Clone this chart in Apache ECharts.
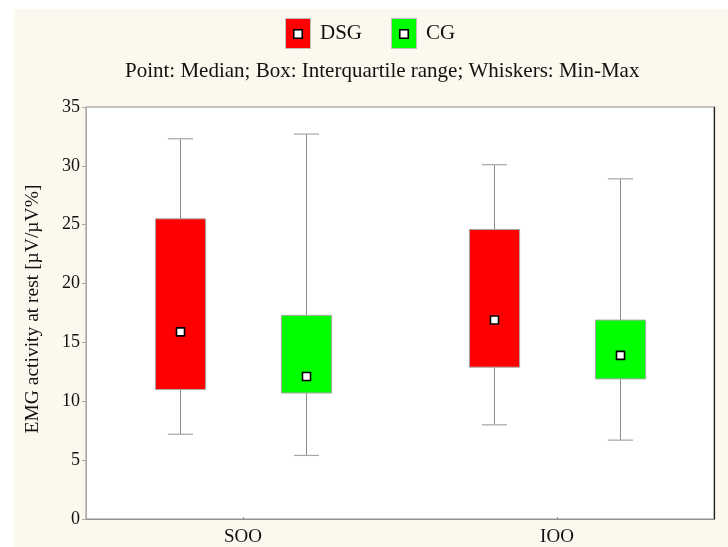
<!DOCTYPE html>
<html>
<head>
<meta charset="utf-8">
<script src="https://cdn.jsdelivr.net/npm/echarts@6/dist/echarts.min.js"></script>
<style>
  html, body { margin: 0; padding: 0; background: #ffffff; }
  #wrap { position: relative; width: 728px; height: 547px; background: #ffffff; }
  #chart { position: absolute; left: 14px; top: 9px; width: 714px; height: 538px; background: #fdf8ee; }
</style>
</head>
<body>
<div id="wrap"><div id="chart"></div></div>
<script>
// Muscle groups on the x axis
const categories = ['SOO', 'IOO'];
const yTicks = [0, 5, 10, 15, 20, 25, 30, 35];

// DSG group: min, lower quartile, median, upper quartile, max
const dsgMin    = [7.2, 8.0];
const dsgQ1     = [11.0, 12.9];
const dsgMedian = [15.9, 16.9];
const dsgQ3     = [25.5, 24.6];
const dsgMax    = [32.3, 30.1];

// CG group: min, lower quartile, median, upper quartile, max
const cgMin    = [5.4, 6.7];
const cgQ1     = [10.7, 11.9];
const cgMedian = [12.1, 13.9];
const cgQ3     = [17.3, 16.9];
const cgMax    = [32.7, 28.9];

const FONT = '"Liberation Serif", "Times New Roman", serif';

function rows(mins, q1s, meds, q3s, maxs) {
  return categories.map((c, i) => [i, mins[i], q1s[i], meds[i], q3s[i], maxs[i]]);
}

// Legend icon: filled swatch with a small median square in the middle
function legendIcon(fill) {
  const svg = '<svg xmlns="http://www.w3.org/2000/svg" width="26" height="31" viewBox="0 0 26 31">' +
    '<rect x="0.5" y="0.5" width="25" height="30" fill="' + fill + '" stroke="#bdbdbd" stroke-width="1"/>' +
    '<rect x="8.75" y="11.75" width="8.5" height="8.5" fill="#ffffff" stroke="#000000" stroke-width="1.6"/>' +
    '</svg>';
  return 'image://data:image/svg+xml;charset=utf-8,' + encodeURIComponent(svg);
}

// Draws whiskers, caps, the interquartile box and the median point
function makeRenderer(shift, fill) {
  return function (params, api) {
    const idx = api.value(0);
    const band = api.size([1, 0])[0];
    const cx = api.coord([idx, 0])[0] + band * shift;
    const boxW = band * 0.16;
    const capW = band * 0.08;
    const yMin = api.coord([idx, api.value(1)])[1];
    const yQ1  = api.coord([idx, api.value(2)])[1];
    const yMed = api.coord([idx, api.value(3)])[1];
    const yQ3  = api.coord([idx, api.value(4)])[1];
    const yMax = api.coord([idx, api.value(5)])[1];
    const px = Math.round(cx) + 0.5;
    const whisker = { stroke: '#8c8c8c', lineWidth: 1 };
    const cap = { stroke: '#a6a6a6', lineWidth: 1.2 };
    const m = 8;
    return {
      type: 'group',
      children: [
        { type: 'line', shape: { x1: px, y1: yMax, x2: px, y2: yQ3 }, style: whisker },
        { type: 'line', shape: { x1: px, y1: yQ1, x2: px, y2: yMin }, style: whisker },
        { type: 'line', shape: { x1: px - capW / 2, y1: yMax, x2: px + capW / 2, y2: yMax }, style: cap },
        { type: 'line', shape: { x1: px - capW / 2, y1: yMin, x2: px + capW / 2, y2: yMin }, style: cap },
        { type: 'rect', shape: { x: px - boxW / 2, y: yQ3, width: boxW, height: yQ1 - yQ3 },
          style: { fill: fill, stroke: '#a8a8a8', lineWidth: 1 } },
        { type: 'rect', shape: { x: px - m / 2, y: yMed - m / 2, width: m, height: m },
          style: { fill: '#ffffff', stroke: '#000000', lineWidth: 1.6 } }
      ]
    };
  };
}

const chart = echarts.init(document.getElementById('chart'), null, { renderer: 'canvas' });

chart.setOption({
  animation: false,
  backgroundColor: 'transparent',
  textStyle: { fontFamily: FONT },
  title: {
    text: 'Point: Median; Box: Interquartile range; Whiskers: Min-Max',
    left: 106,
    top: 47,
    itemGap: 0,
    textStyle: { fontFamily: FONT, fontSize: 21, fontWeight: 'normal', color: '#111111' }
  },
  legend: {
    top: 9,
    left: 271,
    padding: 0,
    itemWidth: 26,
    itemHeight: 31,
    itemGap: 29,
    textStyle: { fontFamily: FONT, fontSize: 21, color: '#111111', padding: [0, 0, 10, 4] },
    data: [
      { name: 'DSG', icon: legendIcon('#ff0000') },
      { name: 'CG', icon: legendIcon('#00ff00') }
    ]
  },
  grid: {
    left: 72, right: 14, top: 98, bottom: 27,
    show: true, backgroundColor: '#ffffff', borderColor: '#8f8f8f', borderWidth: 1
  },
  xAxis: {
    type: 'category',
    data: categories,
    boundaryGap: true,
    axisLine: { show: true, lineStyle: { color: '#8f8f8f' } },
    axisTick: { show: true, inside: true, alignWithLabel: true, length: 2, lineStyle: { color: '#8f8f8f' } },
    axisLabel: { fontFamily: FONT, fontSize: 19, color: '#111111', margin: 9 },
    splitLine: { show: false }
  },
  yAxis: [
    {
      type: 'value',
      min: yTicks[0],
      max: yTicks[yTicks.length - 1],
      interval: 5,
      name: 'EMG activity at rest [µV/µV%]',
      nameLocation: 'middle',
      nameGap: 43,
      nameTextStyle: { fontFamily: FONT, fontSize: 19.5, color: '#111111', padding: [0, 0, 0, 8] },
      axisLine: { show: true, lineStyle: { color: '#ababab' } },
      axisTick: { show: true, inside: false, length: 4, lineStyle: { color: '#ababab' } },
      axisLabel: { fontFamily: FONT, fontSize: 18, color: '#111111', margin: 6 },
      splitLine: { show: false }
    },
    {
      type: 'value',
      position: 'right',
      min: yTicks[0],
      max: yTicks[yTicks.length - 1],
      interval: 5,
      axisLine: { show: true, lineStyle: { color: '#222222', width: 1.2 } },
      axisTick: { show: false },
      axisLabel: { show: false },
      splitLine: { show: false }
    }
  ],
  series: [
    {
      name: 'DSG',
      type: 'custom',
      itemStyle: { color: '#ff0000' },
      renderItem: makeRenderer(-0.2, '#ff0000'),
      encode: { x: 0, y: [1, 2, 3, 4, 5] },
      data: rows(dsgMin, dsgQ1, dsgMedian, dsgQ3, dsgMax)
    },
    {
      name: 'CG',
      type: 'custom',
      itemStyle: { color: '#00ff00' },
      renderItem: makeRenderer(0.2, '#00ff00'),
      encode: { x: 0, y: [1, 2, 3, 4, 5] },
      data: rows(cgMin, cgQ1, cgMedian, cgQ3, cgMax)
    }
  ]
});
</script>
</body>
</html>
